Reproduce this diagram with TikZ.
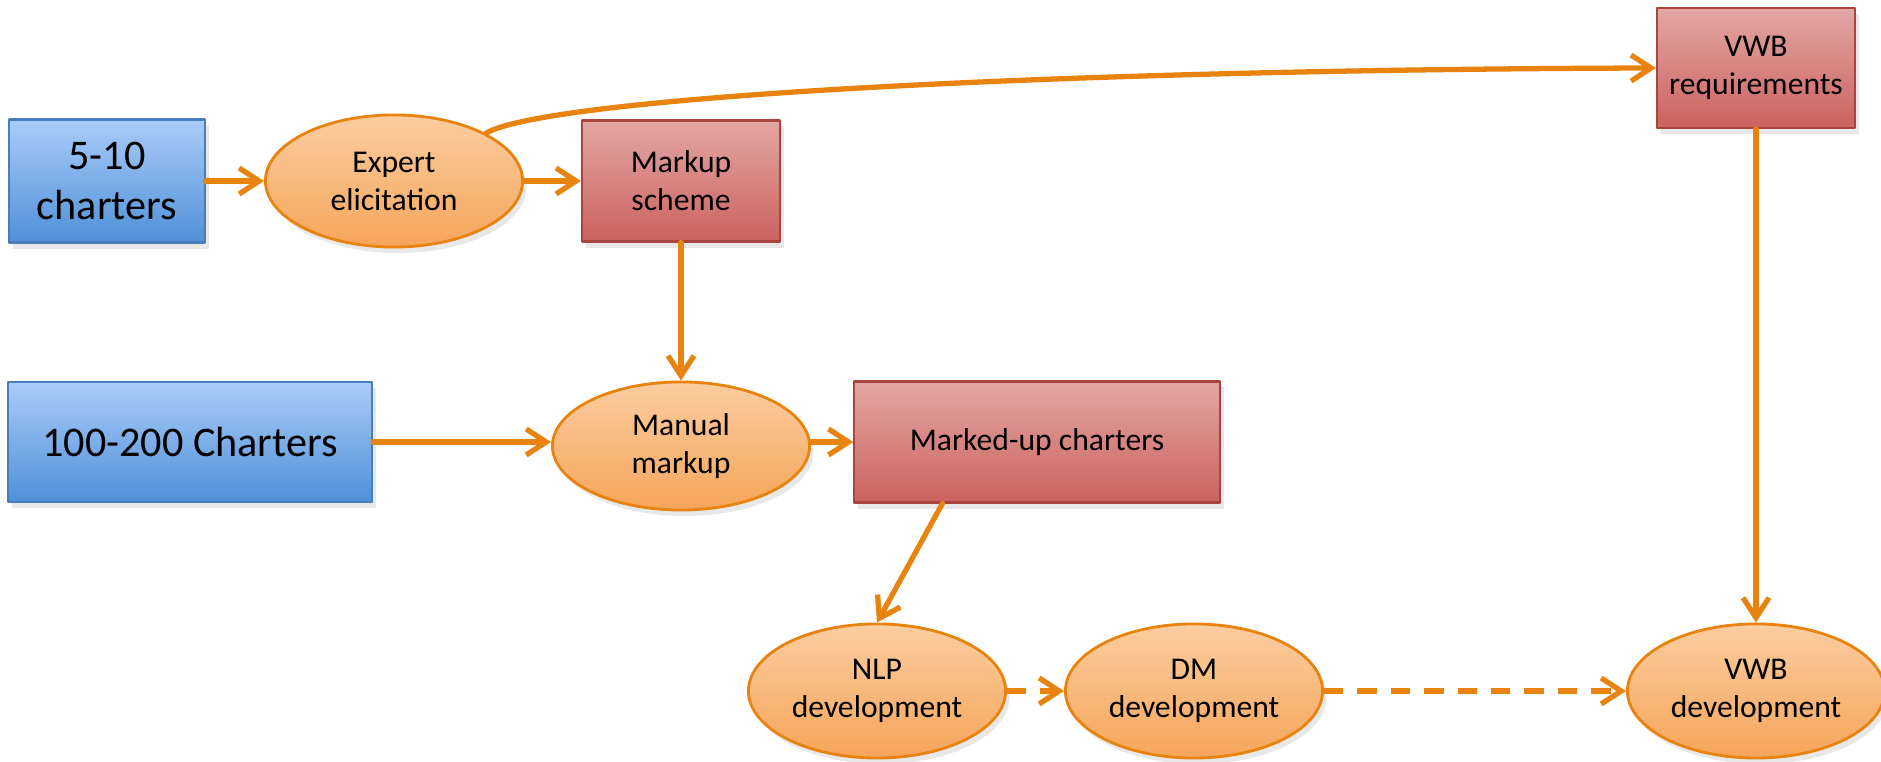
\documentclass[tikz,border=0pt]{standalone}
\usepackage{fontspec}
\setmainfont{Carlito}
\usetikzlibrary{arrows.meta,shapes.geometric,shadows}
\definecolor{flow}{HTML}{E8830F}
\definecolor{bluetop}{HTML}{AACCF9}
\definecolor{bluebot}{HTML}{4F90D8}
\definecolor{blueedge}{HTML}{4A7EBB}
\definecolor{redtop}{HTML}{E3A7A5}
\definecolor{redbot}{HTML}{CB625E}
\definecolor{rededge}{HTML}{A9443F}
\definecolor{orgtop}{HTML}{FBCDA0}
\definecolor{orgbot}{HTML}{F6A55A}
\tikzset{
  every picture/.style={line join=round, >={Straight Barb[length=2mm,width=2.6mm]}},
  softshadow/.style={drop shadow={opacity=0.18, shadow xshift=0.4mm, shadow yshift=-0.6mm}},
  srcbox/.style={rectangle, draw=blueedge, line width=0.6pt, top color=bluetop, bottom color=bluebot,
    softshadow, align=center, font=\fontsize{12}{14.4}\selectfont},
  outbox/.style={rectangle, draw=rededge, line width=0.6pt, top color=redtop, bottom color=redbot,
    softshadow, align=center, font=\fontsize{9}{10.8}\selectfont},
  task/.style={ellipse, draw=flow, line width=0.8pt, top color=orgtop, bottom color=orgbot,
    softshadow, inner sep=0pt, align=center, font=\fontsize{9}{10.8}\selectfont,
    minimum width=2.57cm, minimum height=1.32cm},
  flow/.style={->, draw=flow, line width=1.5pt, line cap=round},
  dashflow/.style={flow, line cap=butt, dash pattern=on 5.5pt off 4pt},
}

\begin{document}
\begin{tikzpicture}[x=0.01cm,y=-0.01cm]
\useasboundingbox (0,0) rectangle (1881,762);
% inputs
\node[srcbox, minimum width=1.95cm, minimum height=1.23cm] (fewch) at (107,181) {5-10\\charters};
\node[srcbox, minimum width=3.64cm, minimum height=1.20cm] (manych) at (190,442) {100-200 Charters};
% tasks
\node[task] (expert) at (394,181) {Expert\\elicitation};
\node[task, minimum height=1.28cm] (manual) at (681,446) {Manual\\markup};
\node[task, minimum height=1.34cm] (nlp) at (877,691) {NLP\\development};
\node[task, minimum height=1.34cm] (dm) at (1194,691) {DM\\development};
\node[task, minimum height=1.34cm] (vwbdev) at (1756,691) {VWB\\development};
% products
\node[outbox, minimum width=1.98cm, minimum height=1.21cm] (scheme) at (681,181) {Markup\\scheme};
\node[outbox, minimum width=1.98cm, minimum height=1.20cm] (vwbreq) at (1756,68) {VWB\\requirements};
\node[outbox, minimum width=3.65cm, minimum height=1.21cm] (marked) at (1037,442) {Marked-up charters};
\coordinate (markedfoot) at ([xshift=0.89cm]marked.south west);
% connectors
\draw[flow] (fewch) -- (expert);
\draw[flow] (expert) -- (scheme);
\draw[flow] (expert.north east) .. controls (540,100) and (1000,70) .. (vwbreq.west);
\draw[flow] (scheme) -- (manual);
\draw[flow] (manych) -- (manual.west |- manych);
\draw[flow] (manual.east |- marked) -- (marked);
\draw[flow] (markedfoot) -- (nlp.north);
\draw[flow] (vwbreq) -- (vwbdev);
\draw[dashflow] (nlp) -- (dm);
\draw[dashflow] (dm) -- (vwbdev);
\end{tikzpicture}
\end{document}
